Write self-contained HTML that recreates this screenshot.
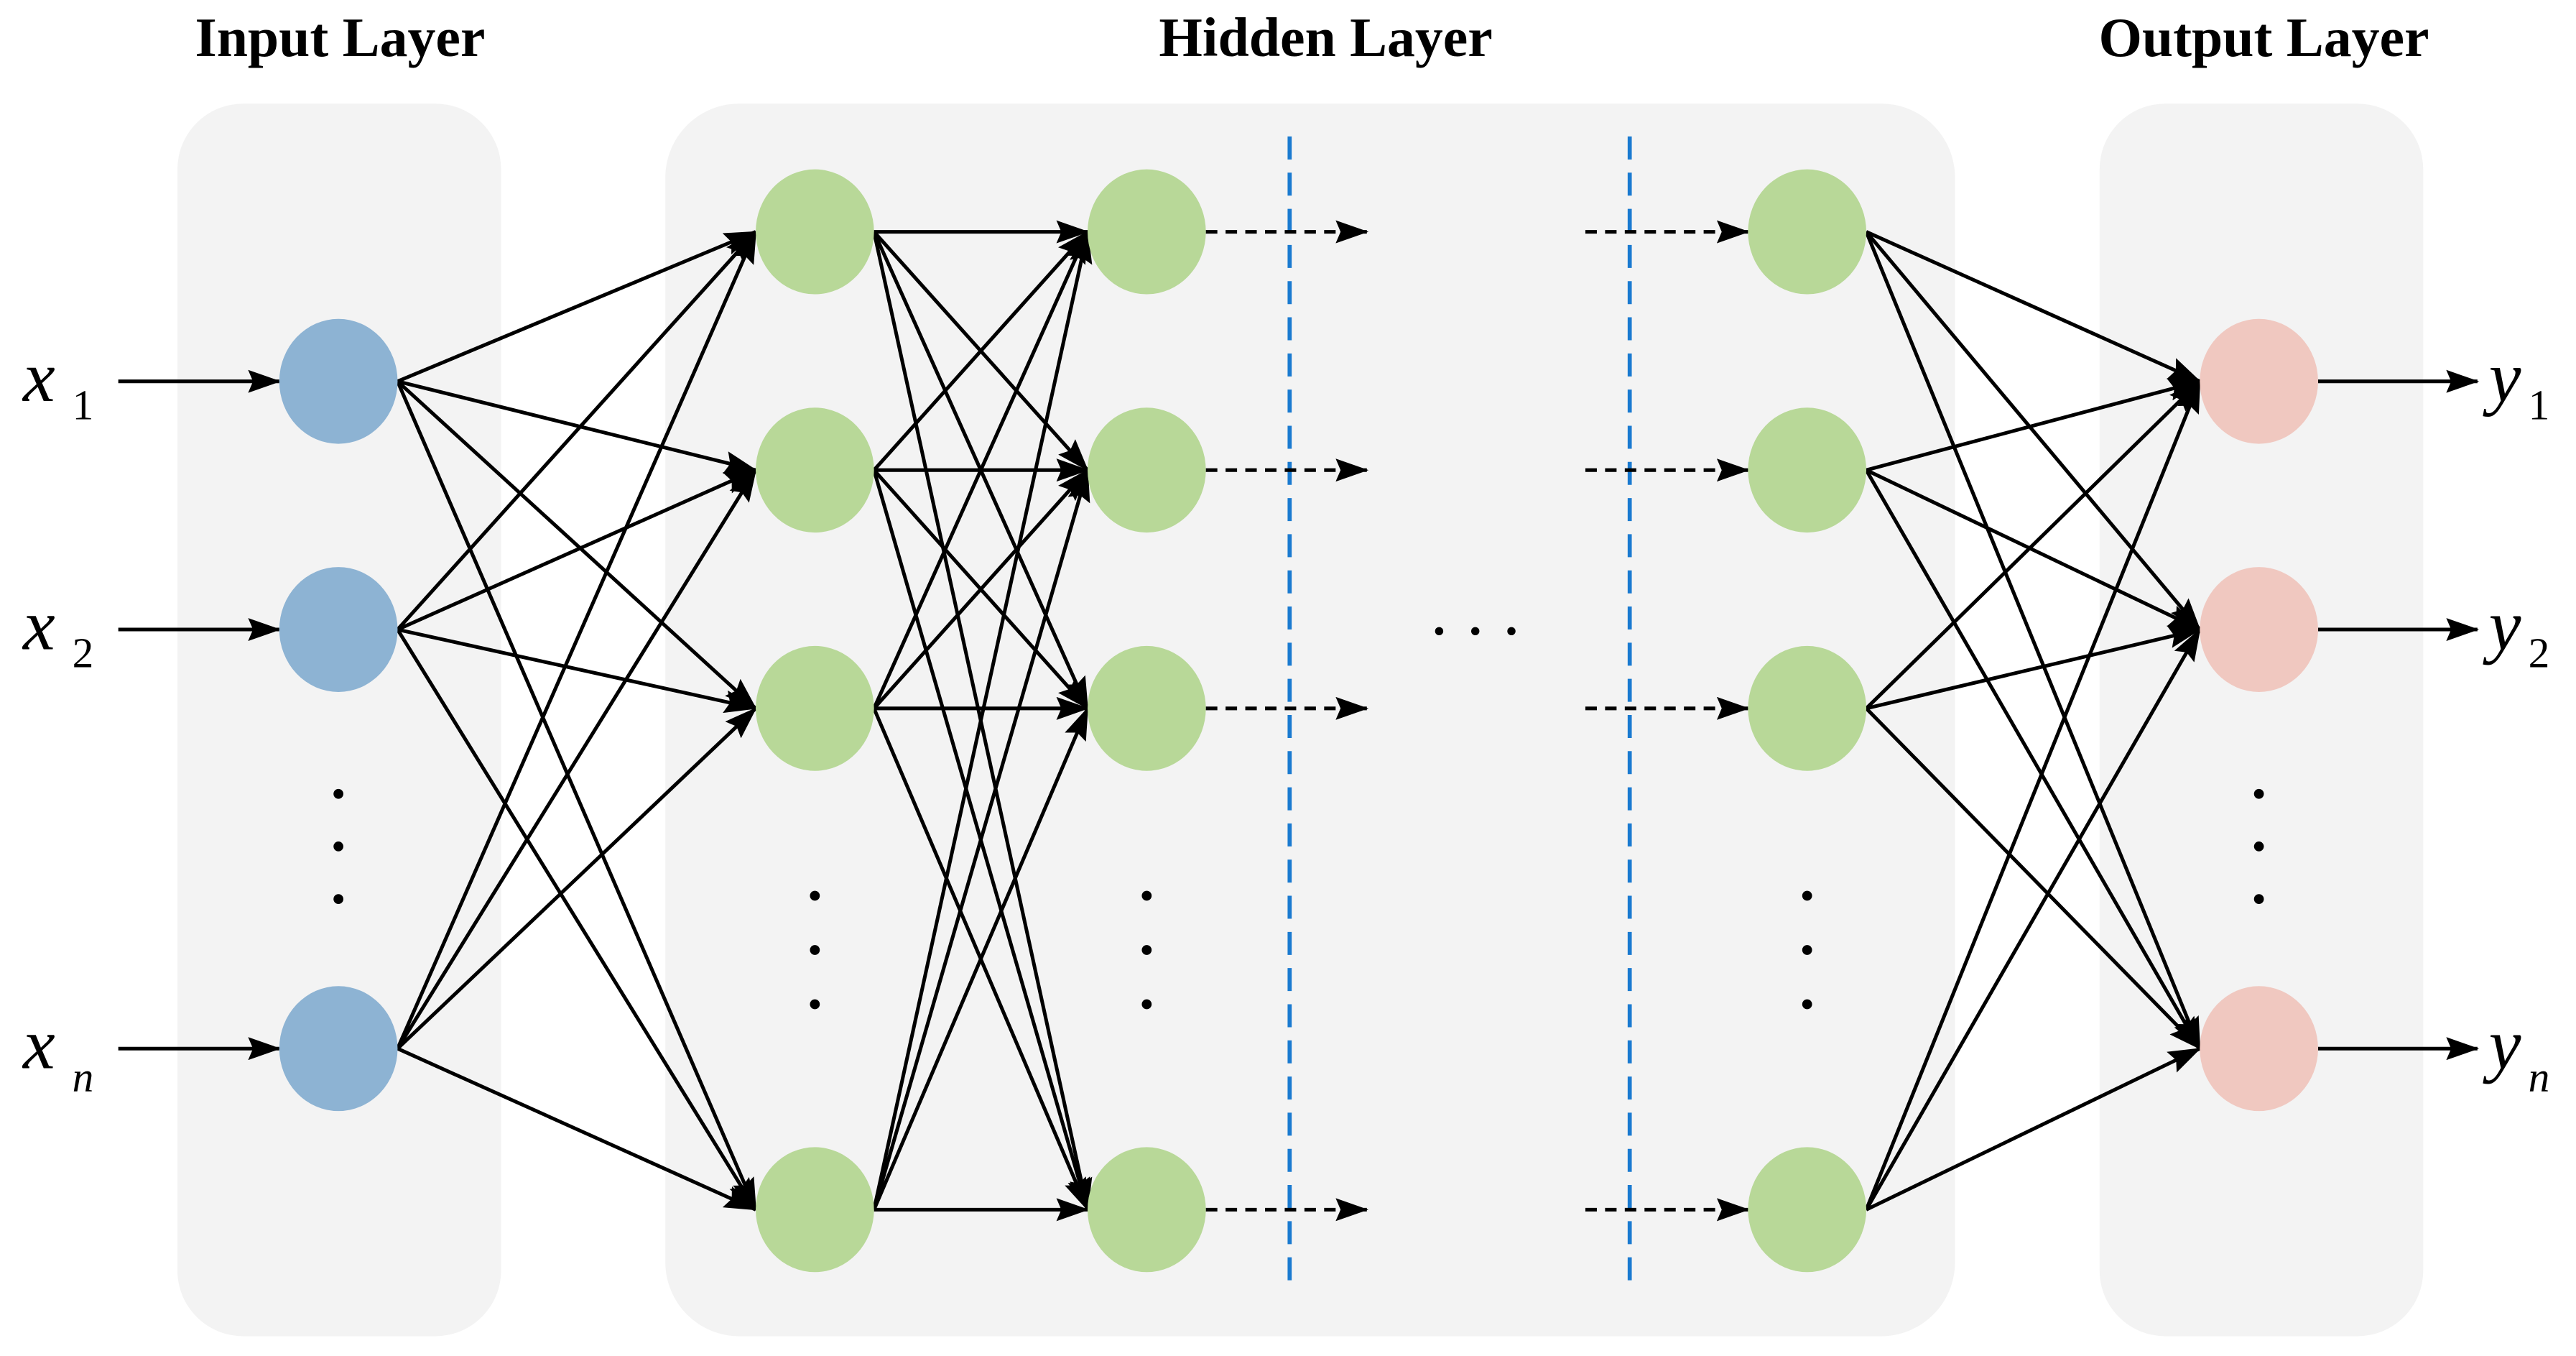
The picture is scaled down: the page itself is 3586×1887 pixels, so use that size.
<!DOCTYPE html>
<html><head><meta charset="utf-8"><style>html,body{margin:0;padding:0;background:#fff}svg{display:block}</style></head>
<body>
<svg width="3586" height="1887" viewBox="0 0 1568 825" xmlns="http://www.w3.org/2000/svg">
<defs>
<marker id="b" markerWidth="20" markerHeight="14" refX="19" refY="7" orient="auto" markerUnits="userSpaceOnUse" viewBox="0 0 20 14">
<path d="M0,0 L20,7 L0,14 L3,7 Z" fill="#000"/></marker>
</defs>
<rect x="108" y="63" width="197" height="750" rx="40" fill="#f3f3f3"/>
<rect x="405" y="63" width="785" height="750" rx="45" fill="#f3f3f3"/>
<rect x="1278" y="63" width="197" height="750" rx="40" fill="#f3f3f3"/>
<g font-family="Liberation Serif, serif" font-weight="bold" font-size="34" text-anchor="middle" fill="#000">
<text x="207" y="34">Input Layer</text><text x="807" y="34">Hidden Layer</text><text x="1378" y="34">Output Layer</text></g>
<g stroke="#1a7ad0" stroke-width="2.5" stroke-dasharray="14,8"><line x1="785" y1="83" x2="785" y2="780"/><line x1="992" y1="83" x2="992" y2="780"/></g>
<g stroke="#000" stroke-width="2.2" fill="none" marker-end="url(#b)">
<path d="M242,232L460,141"/><path d="M242,232L460,286"/><path d="M242,232L460,431"/><path d="M242,232L460,736"/>
<path d="M242,383L460,141"/><path d="M242,383L460,286"/><path d="M242,383L460,431"/><path d="M242,383L460,736"/>
<path d="M242,638L460,141"/><path d="M242,638L460,286"/><path d="M242,638L460,431"/><path d="M242,638L460,736"/>
<path d="M532,141L662,141"/><path d="M532,141L662,286"/><path d="M532,141L662,431"/><path d="M532,141L662,736"/>
<path d="M532,286L662,141"/><path d="M532,286L662,286"/><path d="M532,286L662,431"/><path d="M532,286L662,736"/>
<path d="M532,431L662,141"/><path d="M532,431L662,286"/><path d="M532,431L662,431"/><path d="M532,431L662,736"/>
<path d="M532,736L662,141"/><path d="M532,736L662,286"/><path d="M532,736L662,431"/><path d="M532,736L662,736"/>
<path d="M1136,141L1339,232"/><path d="M1136,141L1339,383"/><path d="M1136,141L1339,638"/>
<path d="M1136,286L1339,232"/><path d="M1136,286L1339,383"/><path d="M1136,286L1339,638"/>
<path d="M1136,431L1339,232"/><path d="M1136,431L1339,383"/><path d="M1136,431L1339,638"/>
<path d="M1136,736L1339,232"/><path d="M1136,736L1339,383"/><path d="M1136,736L1339,638"/>
<path d="M72,232L170,232"/><path d="M72,383L170,383"/><path d="M72,638L170,638"/>
<path d="M1411,232L1508,232"/><path d="M1411,383L1508,383"/><path d="M1411,638L1508,638"/>
</g>
<g stroke="#000" stroke-width="2.2" stroke-dasharray="7,5" marker-end="url(#b)">
<path d="M734,141L832,141"/><path d="M734,286L832,286"/><path d="M734,431L832,431"/><path d="M734,736L832,736"/>
<path d="M965,141L1064,141"/><path d="M965,286L1064,286"/><path d="M965,431L1064,431"/><path d="M965,736L1064,736"/>
</g>
<g fill="#8db3d3"><ellipse cx="206" cy="232" rx="36" ry="38"/><ellipse cx="206" cy="383" rx="36" ry="38"/><ellipse cx="206" cy="638" rx="36" ry="38"/></g>
<g fill="#b8d898">
<ellipse cx="496" cy="141" rx="36" ry="38"/><ellipse cx="496" cy="286" rx="36" ry="38"/><ellipse cx="496" cy="431" rx="36" ry="38"/><ellipse cx="496" cy="736" rx="36" ry="38"/>
<ellipse cx="698" cy="141" rx="36" ry="38"/><ellipse cx="698" cy="286" rx="36" ry="38"/><ellipse cx="698" cy="431" rx="36" ry="38"/><ellipse cx="698" cy="736" rx="36" ry="38"/>
<ellipse cx="1100" cy="141" rx="36" ry="38"/><ellipse cx="1100" cy="286" rx="36" ry="38"/><ellipse cx="1100" cy="431" rx="36" ry="38"/><ellipse cx="1100" cy="736" rx="36" ry="38"/>
</g>
<g fill="#f0c8c0"><ellipse cx="1375" cy="232" rx="36" ry="38"/><ellipse cx="1375" cy="383" rx="36" ry="38"/><ellipse cx="1375" cy="638" rx="36" ry="38"/></g>
<g fill="#000">
<circle cx="206" cy="483" r="3"/><circle cx="206" cy="515" r="3"/><circle cx="206" cy="547" r="3"/>
<circle cx="1375" cy="483" r="3"/><circle cx="1375" cy="515" r="3"/><circle cx="1375" cy="547" r="3"/>
<circle cx="496" cy="545" r="3"/><circle cx="496" cy="578" r="3"/><circle cx="496" cy="611" r="3"/>
<circle cx="698" cy="545" r="3"/><circle cx="698" cy="578" r="3"/><circle cx="698" cy="611" r="3"/>
<circle cx="1100" cy="545" r="3"/><circle cx="1100" cy="578" r="3"/><circle cx="1100" cy="611" r="3"/>
<circle cx="876" cy="384" r="2.5"/><circle cx="898" cy="384" r="2.5"/><circle cx="920" cy="384" r="2.5"/>
</g>
<g font-family="Liberation Serif, serif" font-style="italic" fill="#000">
<text x="14" y="244" font-size="44">x</text><text x="44" y="255" font-size="26" font-style="normal">1</text>
<text x="14" y="395" font-size="44">x</text><text x="44" y="406" font-size="26" font-style="normal">2</text>
<text x="14" y="650" font-size="44">x</text><text x="44" y="664" font-size="26">n</text>
<text x="1515" y="244" font-size="44">y</text><text x="1539" y="255" font-size="26" font-style="normal">1</text>
<text x="1515" y="395" font-size="44">y</text><text x="1539" y="406" font-size="26" font-style="normal">2</text>
<text x="1515" y="650" font-size="44">y</text><text x="1539" y="664" font-size="26">n</text>
</g>
</svg>
</body></html>
